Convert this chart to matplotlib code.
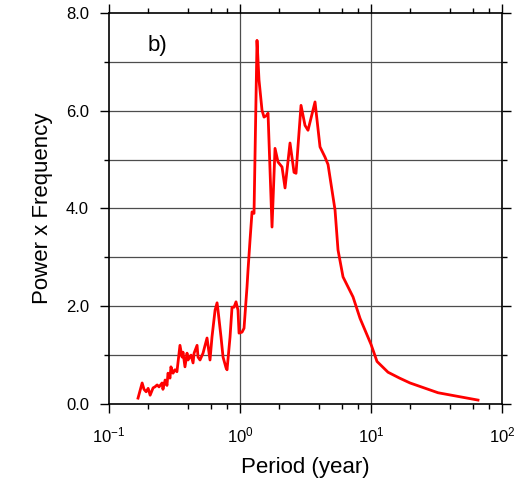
import matplotlib
matplotlib.use('Agg')
import matplotlib.pyplot as plt
from matplotlib.ticker import FixedLocator, LogLocator, NullFormatter

plt.rcParams['font.family'] = ['Liberation Sans', 'DejaVu Sans']
plt.rcParams['axes.unicode_minus'] = False

# period (year) and power x frequency
period = [0.1665, 0.179, 0.185, 0.192, 0.199, 0.206, 0.217, 0.224, 0.233, 0.241,
          0.254, 0.258, 0.268, 0.277, 0.282, 0.292, 0.297, 0.308, 0.319, 0.330,
          0.348, 0.361, 0.367, 0.380, 0.394, 0.401, 0.423, 0.438, 0.446, 0.470,
          0.478, 0.495, 0.522, 0.541, 0.560, 0.590, 0.611, 0.645, 0.668, 0.679,
          0.716, 0.742, 0.782, 0.796, 0.839, 0.869, 0.900, 0.932, 0.965, 0.983,
          1.036, 1.073, 1.131, 1.151, 1.192, 1.235, 1.279, 1.348, 1.396, 1.472,
          1.525, 1.608, 1.636, 1.755, 1.850, 1.951, 2.092, 2.206, 2.408, 2.584,
          2.676, 2.922, 3.134, 3.304, 3.737, 4.080, 4.456, 4.697, 5.312, 5.599,
          6.114, 7.289, 8.25, 10.0, 11.11, 13.48, 16.5, 19.85, 32.47, 65.57]
power = [0.12, 0.43, 0.30, 0.25, 0.32, 0.18, 0.33, 0.35, 0.39, 0.35,
         0.43, 0.30, 0.49, 0.38, 0.63, 0.53, 0.76, 0.63, 0.70, 0.66,
         1.20, 0.96, 1.06, 0.76, 1.04, 0.90, 1.00, 0.84, 1.04, 1.20,
         0.96, 0.90, 1.04, 1.20, 1.35, 0.90, 1.37, 1.92, 2.07, 1.92,
         1.37, 0.96, 0.74, 0.70, 1.37, 1.98, 1.98, 2.09, 1.92, 1.45,
         1.47, 1.55, 2.40, 2.74, 3.35, 3.93, 3.90, 7.44, 6.63, 6.01,
         5.87, 5.91, 5.95, 3.62, 5.23, 4.95, 4.85, 4.42, 5.34, 4.74,
         4.72, 6.11, 5.70, 5.60, 6.18, 5.26, 5.05, 4.90, 3.97, 3.15,
         2.60, 2.19, 1.75, 1.22, 0.87, 0.65, 0.53, 0.43, 0.23, 0.08]

ytick_vals = [0, 2, 4, 6, 8]
ytick_labels = ['0.0', '2.0', '4.0', '6.0', '8.0']

fig = plt.figure(figsize=(5.30, 4.79), dpi=100)
ax = fig.add_axes([0.2057, 0.1566, 0.7415, 0.8163])

ax.plot(period, power, color='#ff0000', lw=2.0, zorder=3)

ax.set_xscale('log')
ax.set_xlim(0.1, 100)
ax.set_ylim(0, 8)

# grid like NCL: vertical at decades, horizontal every 1.0
for gx in [1, 10]:
    ax.axvline(gx, color='#4d4d4d', lw=0.9, zorder=1)
for gy in range(1, 8):
    ax.axhline(gy, color='#4d4d4d', lw=0.9, zorder=1)

ax.set_yticks(ytick_vals)
ax.set_yticklabels(ytick_labels)
ax.yaxis.set_minor_locator(FixedLocator([1, 3, 5, 7]))
ax.xaxis.set_major_locator(LogLocator(base=10, numticks=10))
ax.xaxis.set_minor_locator(LogLocator(base=10, subs=[2, 4, 6, 8], numticks=20))
ax.xaxis.set_minor_formatter(NullFormatter())

ax.tick_params(which='both', direction='out', top=True, right=True, width=1.0)
ax.tick_params(which='major', length=6.5, labelsize=12)
ax.tick_params(which='minor', length=3.5)
ax.tick_params(axis='x', which='major', pad=9)
ax.tick_params(axis='y', which='major', pad=8)

for s in ax.spines.values():
    s.set_linewidth(1.2)

ax.set_xlabel('Period (year)', fontsize=16, labelpad=8)
ax.set_ylabel('Power x Frequency', fontsize=16, labelpad=9)

ax.text(0.097, 0.918, 'b)', transform=ax.transAxes, fontsize=16,
        ha='left', va='center')

fig.savefig('out.png', dpi=100)
